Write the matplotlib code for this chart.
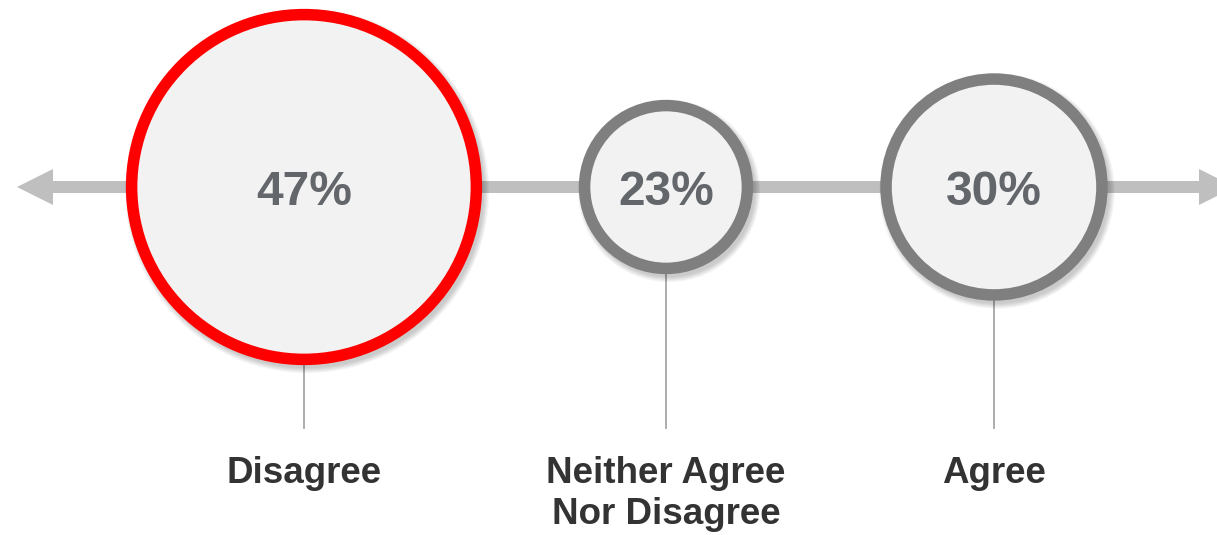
import matplotlib
matplotlib.use('Agg')
import matplotlib.pyplot as plt
from matplotlib.patches import Circle, Polygon

categories = ['Disagree', 'Neither Agree\nNor Disagree', 'Agree']
values = [47, 23, 30]
highlight = 'Disagree'

# layout in pixels (y grows downward)
W, H = 1217, 535
centers_x = [304, 666, 994]
axis_y = 187
px_per_pct = 3.79
ring_px = 11.5
label_top = 456
stem_end = 428

plt.rcParams['font.family'] = ['Liberation Sans', 'DejaVu Sans']

fig = plt.figure(figsize=(W / 100, H / 100), dpi=100)
ax = fig.add_axes([0, 0, 1, 1])
ax.set_xlim(0, W)
ax.set_ylim(H, 0)
ax.set_aspect('equal')
ax.axis('off')

# double headed axis arrow
bar = 6
head_w = 18
head_l = 36
arrow = Polygon([
    (17, axis_y), (17 + head_l, axis_y - head_w), (17 + head_l, axis_y - bar),
    (1199, axis_y - bar), (1199, axis_y - head_w), (1199 + head_l, axis_y),
    (1199, axis_y + head_w), (1199, axis_y + bar), (17 + head_l, axis_y + bar),
    (17 + head_l, axis_y + head_w)],
    closed=True, facecolor='#bfbfbf', edgecolor='none', zorder=1)
ax.add_patch(arrow)

lw_pt = ring_px * 72 / 100
for cat, val, cx in zip(categories, values, centers_x):
    r_out = val * px_per_pct
    r = r_out - ring_px / 2
    # stem from circle bottom down to the label
    ax.plot([cx, cx], [axis_y + r_out, stem_end], color='#a6a6a6', lw=1.3, zorder=2)
    # soft drop shadow
    for k in range(6):
        ax.add_patch(Circle((cx + 3, axis_y + 4), r_out + 4 - k,
                            facecolor='#000000', edgecolor='none',
                            alpha=0.035, zorder=3))
    edge = '#ff0000' if cat == highlight else '#7f7f7f'
    ax.add_patch(Circle((cx, axis_y), r, facecolor='#f2f2f2', edgecolor=edge,
                        lw=lw_pt, zorder=4))
    ax.text(cx, axis_y + 18, f'{val}%', ha='center', va='baseline',
            fontsize=34.5, fontweight='bold', color='#63666a', zorder=5)
    ax.text(cx, label_top, cat, ha='center', va='top', fontsize=26.5,
            fontweight='bold', color='#333333', linespacing=1.22, zorder=5)

fig.savefig('out.png', dpi=100)
